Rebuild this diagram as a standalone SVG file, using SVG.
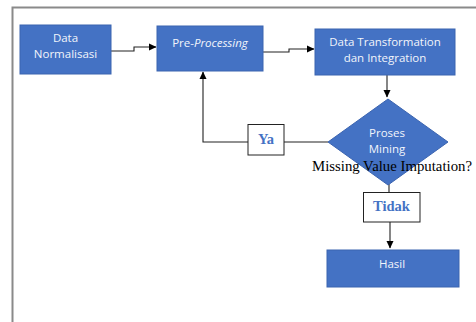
<svg xmlns="http://www.w3.org/2000/svg" width="476" height="322" viewBox="0 0 476 322">
<defs>
<style>
.box{fill:#4472C4;stroke:#3b64b0;stroke-width:1}
.t{font-family:"Open Sans","Noto Sans",sans-serif;font-size:11.5px;fill:#f2f5fb;text-anchor:middle}
.lbl{fill:#fff;stroke:#222;stroke-width:1}
.lt{font-family:"Liberation Serif","DejaVu Serif",serif;font-weight:bold;font-size:14.5px;fill:#4472C4;text-anchor:middle}
.c{fill:none;stroke:#222;stroke-width:1.1}
</style>
<marker id="ah" markerWidth="8" markerHeight="8" refX="7" refY="4" orient="auto" markerUnits="userSpaceOnUse">
<path d="M0,0.5 L7.5,4 L0,7.5 Z" fill="#000"/>
</marker>
</defs>
<rect width="476" height="322" fill="#fff"/>
<path d="M12.5,322 V7.5 H476" fill="none" stroke="#8a8a8a" stroke-width="2"/>

<g id="connectors">
<path class="c" d="M111,51 H134 V47 H156" marker-end="url(#ah)"/>
<path class="c" d="M263,52 H289 V49 H314" marker-end="url(#ah)"/>
<path class="c" d="M387,75 V97" marker-end="url(#ah)"/>
<path class="c" d="M328,142 H284"/>
<path class="c" d="M248,142 H203 V72" marker-end="url(#ah)"/>
<path class="c" d="M389,184 V192"/>
<path class="c" d="M390,222 V248" marker-end="url(#ah)"/>
</g>

<g id="data-normalisasi">
<rect class="box" x="20" y="25" width="91" height="49"/>
<text class="t" x="65.5" y="42">Data</text>
<text class="t" x="65.5" y="58">Normalisasi</text>
</g>

<g id="pre-processing">
<rect class="box" x="157" y="26" width="106" height="45"/>
<text class="t" x="210" y="47">Pre-<tspan font-style="italic">Processing</tspan></text>
</g>

<g id="data-transformation">
<rect class="box" x="315" y="29" width="140" height="46"/>
<text class="t" x="385" y="46">Data Transformation</text>
<text class="t" x="385" y="62">dan Integration</text>
</g>

<g id="proses-mining">
<polygon class="box" points="388,99 448,142 388,185 328,142"/>
<text class="t" x="387" y="137">Proses</text>
<text class="t" x="387" y="153">Mining</text>
<text x="312" y="171" font-family="'Liberation Serif','DejaVu Serif',serif" font-size="14px" fill="#000" textLength="160" lengthAdjust="spacingAndGlyphs">Missing Value Imputation?</text>
</g>

<g id="ya">
<rect class="lbl" x="248" y="124.5" width="36" height="30.5"/>
<text class="lt" x="266" y="144">Ya</text>
</g>

<g id="tidak">
<rect class="lbl" x="363.5" y="192.5" width="56.5" height="29.5"/>
<text class="lt" x="391.5" y="211">Tidak</text>
</g>

<g id="hasil">
<rect class="box" x="327" y="250" width="132" height="37"/>
<text class="t" x="392" y="268">Hasil</text>
</g>
</svg>
